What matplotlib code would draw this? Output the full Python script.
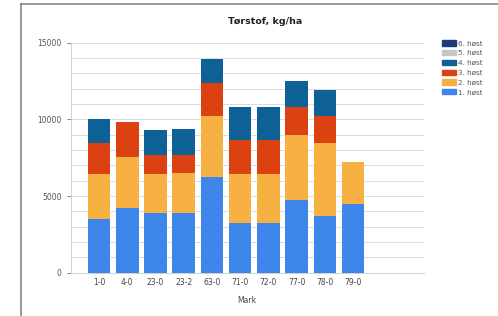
import matplotlib.pyplot as plt
import numpy as np
from matplotlib.lines import Line2D
from matplotlib.patches import Patch

marks = ['1-0', '4-0', '23-0', '23-2', '63-0', '71-0', '72-0', '77-0', '78-0', '79-0']
host1 = [3480, 4220, 3870, 3910, 6240, 3260, 3260, 4760, 3700, 4500]
host2 = [2980, 3300, 2590, 2570, 4000, 3200, 3200, 4240, 4740, 2720]
host3 = [1980, 2310, 1190, 1190, 2110, 2190, 2190, 1800, 1760, 0]
host4 = [1600, 0, 1680, 1700, 1590, 2180, 2180, 1680, 1710, 0]
host5 = [0] * 10
host6 = [0] * 10

series = [host1, host2, host3, host4, host5, host6]
names = ['1. høst', '2. høst', '3. høst', '4. høst', '5. høst', '6. høst']
colors = ['#3e86ea', '#f7b042', '#dc4112', '#0e6196', '#c6c6c6', '#1b3c78']

fig = plt.figure(figsize=(4.98, 3.16), dpi=100)
ax = fig.add_axes([0.142, 0.137, 0.709, 0.728])

x = np.arange(len(marks))
bottom = np.zeros(len(marks))
for vals, name, col in zip(series, names, colors):
    ax.bar(x, vals, width=0.8, bottom=bottom, color=col, label=name, zorder=3)
    bottom += np.array(vals)

ax.set_xlim(-1.0, 11.5)
ax.set_ylim(0, 15000)
ax.set_yticks([0, 5000, 10000, 15000])
ax.set_yticks(np.arange(0, 15001, 1000), minor=True)
ax.set_xticks(x)
ax.set_xticklabels(marks)
ax.grid(axis='y', which='both', color='#dcdcdc', linewidth=0.7, zorder=0)
ax.tick_params(axis='y', which='major', labelsize=5.5, colors='#555555', length=3, width=0.5)
ax.tick_params(axis='y', which='minor', length=0)
ax.tick_params(axis='x', labelsize=5.5, colors='#444444', length=0, pad=4)
for s in ['top', 'right']:
    ax.spines[s].set_visible(False)
ax.spines['left'].set_color('#d0d0d0')
ax.spines['bottom'].set_color('#d0d0d0')
ax.spines['left'].set_linewidth(0.7)
ax.spines['bottom'].set_linewidth(0.7)
ax.set_xlabel('Mark', fontsize=5.5, color='#444444', labelpad=6)

fig.text(265 / 498, 1 - 21 / 316, 'Tørstof, kg/ha', fontsize=6.8, fontweight='bold',
         color='#222222', ha='center', va='center')

handles = [Patch(color=c, label=n) for c, n in zip(colors, names)][::-1]
fig.legend(handles=handles, loc='upper left', bbox_to_anchor=(0.874, 0.893),
           frameon=False, fontsize=5.2, handlelength=2.0, handleheight=0.75,
           labelspacing=0.5, handletextpad=0.3, labelcolor='#555555')

# outer frame of the screenshot
fig.add_artist(Line2D([20.5 / 498, 20.5 / 498], [0, 1 - 4 / 316],
                      transform=fig.transFigure, color='#888888', linewidth=1.2))
fig.add_artist(Line2D([20.5 / 498, 1], [1 - 4 / 316, 1 - 4 / 316],
                      transform=fig.transFigure, color='#888888', linewidth=1.2))

plt.savefig('out.png', dpi=100)
